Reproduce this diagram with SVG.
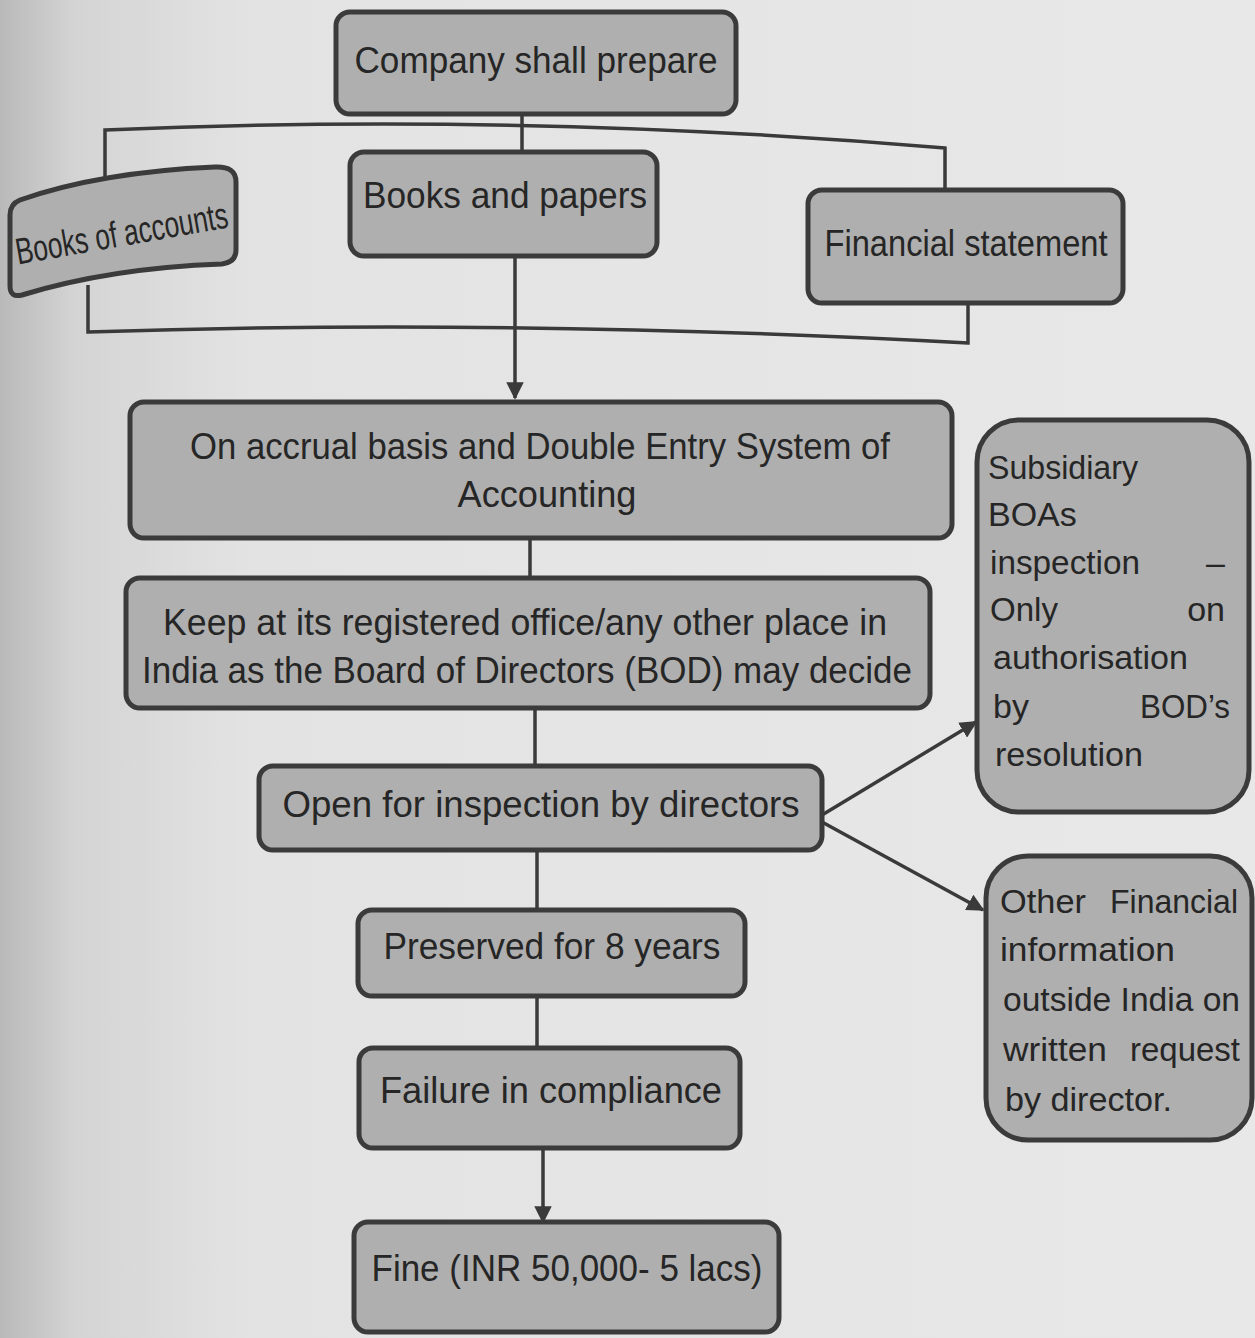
<svg xmlns="http://www.w3.org/2000/svg" width="1255" height="1338" viewBox="0 0 1255 1338">
  <defs>
    <linearGradient id="paper" x1="0" y1="0" x2="1" y2="0">
      <stop offset="0" stop-color="#b9b9b9"/>
      <stop offset="0.06" stop-color="#d4d4d4"/>
      <stop offset="0.2" stop-color="#e3e3e3"/>
      <stop offset="1" stop-color="#e8e8e8"/>
    </linearGradient>
    <marker id="arrow" viewBox="0 0 10 10" refX="9" refY="5" markerWidth="5" markerHeight="5" orient="auto" markerUnits="strokeWidth">
      <path d="M0,0 L10,5 L0,10 Z" fill="#3a3a3a"/>
    </marker>
    <style>
      .box { fill: #afafaf; stroke: #3b3b3b; stroke-width: 5; }
      .t { font-family: "Liberation Sans", "Open Sans", sans-serif; font-size: 37px; fill: #262626; }
      .s { font-family: "Liberation Sans", "Open Sans", sans-serif; font-size: 34px; fill: #262626; }
      .c { text-anchor: middle; }
      .e { text-anchor: end; }
      .ln { fill: none; stroke: #3a3a3a; stroke-width: 3.5; }
    </style>
  </defs>

  <rect x="0" y="0" width="1255" height="1338" fill="url(#paper)"/>

  <g id="connectors">
    <path class="ln" d="M105,200 L105,130 Q520,112 945,148 L945,192"/>
    <path class="ln" d="M522,114 L522,153"/>
    <path class="ln" d="M88,285 L88,332 Q500,318 968,343 L968,302"/>
    <path class="ln" d="M515,256 L515,398" marker-end="url(#arrow)"/>
    <path class="ln" d="M530,538 L530,578"/>
    <path class="ln" d="M535,708 L535,766"/>
    <path class="ln" d="M822,815 L976,722" marker-end="url(#arrow)"/>
    <path class="ln" d="M822,822 L983,910" marker-end="url(#arrow)"/>
    <path class="ln" d="M537,850 L537,910"/>
    <path class="ln" d="M537,996 L537,1048"/>
    <path class="ln" d="M543,1148 L543,1222" marker-end="url(#arrow)"/>
  </g>

  <g id="company">
    <rect class="box" x="336" y="12" width="400" height="102" rx="14"/>
    <text class="t c" x="536" y="73" textLength="363" lengthAdjust="spacingAndGlyphs">Company shall prepare</text>
  </g>

  <g id="books-of-accounts">
    <path class="box" d="M20,200 Q100,172 215,167 Q236,166 236,182 L236,250 Q236,262 222,264 Q110,268 22,295 Q10,298 10,286 L10,215 Q10,204 20,200 Z"/>
    <text class="t c" x="122" y="246" font-size="34" transform="rotate(-10 122 235)" textLength="215" lengthAdjust="spacingAndGlyphs">Books of accounts</text>
  </g>

  <g id="books-and-papers">
    <rect class="box" x="350" y="152" width="307" height="104" rx="14"/>
    <text class="t c" x="505" y="208" textLength="284" lengthAdjust="spacingAndGlyphs">Books and papers</text>
  </g>

  <g id="financial-statement">
    <rect class="box" x="808" y="190" width="315" height="113" rx="14"/>
    <text class="t c" x="966" y="256" textLength="283" lengthAdjust="spacingAndGlyphs">Financial statement</text>
  </g>

  <g id="accrual">
    <rect class="box" x="130" y="402" width="822" height="136" rx="14"/>
    <text class="t c" x="540" y="459" textLength="700" lengthAdjust="spacingAndGlyphs">On accrual basis and Double Entry System of</text>
    <text class="t c" x="547" y="507" textLength="179" lengthAdjust="spacingAndGlyphs">Accounting</text>
  </g>

  <g id="keep">
    <rect class="box" x="126" y="578" width="804" height="130" rx="14"/>
    <text class="t c" x="525" y="635" textLength="724" lengthAdjust="spacingAndGlyphs">Keep at its registered office/any other place in</text>
    <text class="t c" x="527" y="683" textLength="770" lengthAdjust="spacingAndGlyphs">India as the Board of Directors (BOD) may decide</text>
  </g>

  <g id="open-inspection">
    <rect class="box" x="259" y="766" width="563" height="84" rx="14"/>
    <text class="t c" x="541" y="817" textLength="517" lengthAdjust="spacingAndGlyphs">Open for inspection by directors</text>
  </g>

  <g id="subsidiary">
    <rect class="box" x="977" y="420" width="272" height="392" rx="42"/>
    <text class="s" x="988" y="479" textLength="150" lengthAdjust="spacingAndGlyphs">Subsidiary</text>
    <text class="s" x="988" y="526">BOAs</text>
    <text class="s" x="990" y="574" textLength="150" lengthAdjust="spacingAndGlyphs">inspection</text>
    <text class="s e" x="1225" y="574">–</text>
    <text class="s" x="990" y="621" textLength="68" lengthAdjust="spacingAndGlyphs">Only</text>
    <text class="s e" x="1225" y="621">on</text>
    <text class="s" x="993" y="669" textLength="195" lengthAdjust="spacingAndGlyphs">authorisation</text>
    <text class="s" x="993" y="718">by</text>
    <text class="s e" x="1230" y="718" textLength="90" lengthAdjust="spacingAndGlyphs">BOD’s</text>
    <text class="s" x="995" y="766" textLength="148" lengthAdjust="spacingAndGlyphs">resolution</text>
  </g>

  <g id="other-financial">
    <rect class="box" x="986" y="856" width="266" height="284" rx="42"/>
    <text class="s" x="1000" y="913" textLength="86" lengthAdjust="spacingAndGlyphs">Other</text>
    <text class="s e" x="1238" y="913" textLength="128" lengthAdjust="spacingAndGlyphs">Financial</text>
    <text class="s" x="1000" y="961" textLength="175" lengthAdjust="spacingAndGlyphs">information</text>
    <text class="s" x="1003" y="1011" textLength="237" lengthAdjust="spacingAndGlyphs">outside India on</text>
    <text class="s" x="1003" y="1061" textLength="104" lengthAdjust="spacingAndGlyphs">written</text>
    <text class="s e" x="1240" y="1061" textLength="110" lengthAdjust="spacingAndGlyphs">request</text>
    <text class="s" x="1005" y="1111" textLength="167" lengthAdjust="spacingAndGlyphs">by director.</text>
  </g>

  <g id="preserved">
    <rect class="box" x="358" y="910" width="387" height="86" rx="14"/>
    <text class="t c" x="552" y="959" textLength="337" lengthAdjust="spacingAndGlyphs">Preserved for 8 years</text>
  </g>

  <g id="failure">
    <rect class="box" x="359" y="1048" width="381" height="100" rx="14"/>
    <text class="t c" x="551" y="1103" textLength="342" lengthAdjust="spacingAndGlyphs">Failure in compliance</text>
  </g>

  <g id="fine">
    <rect class="box" x="354" y="1222" width="425" height="110" rx="14"/>
    <text class="t c" x="567" y="1281" textLength="391" lengthAdjust="spacingAndGlyphs">Fine (INR 50,000- 5 lacs)</text>
  </g>
</svg>
